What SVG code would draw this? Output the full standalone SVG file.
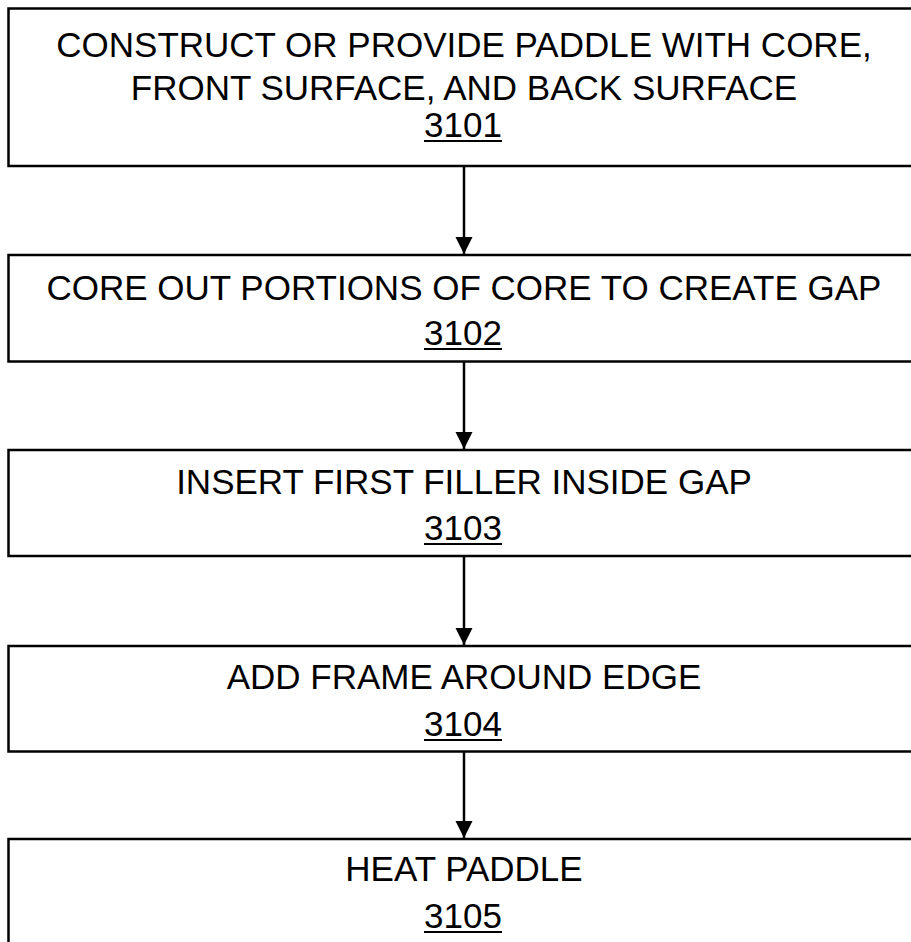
<svg xmlns="http://www.w3.org/2000/svg" width="911" height="942" viewBox="0 0 911 942">
<style>
.box{fill:#fff;stroke:#000;stroke-width:2.5}
.t{font-family:"Liberation Sans",Arial,sans-serif;font-size:35px;fill:#000;text-anchor:middle}
.u{stroke:#000;stroke-width:2}
.c{stroke:#000;stroke-width:2.5;fill:none}
</style>
<defs>
<marker id="ah" markerUnits="userSpaceOnUse" markerWidth="18" markerHeight="18" refX="17" refY="8.5" orient="auto">
<path d="M0,0 L17,8.5 L0,17 Z" fill="#000"/>
</marker>
</defs>
<rect width="911" height="942" fill="#fff"/>
<g id="n3101">
<rect class="box" x="8.5" y="8.5" width="920" height="157.5"/>
<text class="t" x="464" y="57">CONSTRUCT OR PROVIDE PADDLE WITH CORE,</text>
<text class="t" x="464" y="100">FRONT SURFACE, AND BACK SURFACE</text>
<text class="t" x="463" y="137">3101</text>
<line class="u" x1="424" y1="141" x2="502" y2="141"/>
</g>
<g id="n3102">
<rect class="box" x="8.5" y="255" width="920" height="106.5"/>
<text class="t" x="464" y="300">CORE OUT PORTIONS OF CORE TO CREATE GAP</text>
<text class="t" x="463" y="345">3102</text>
<line class="u" x1="424" y1="349" x2="502" y2="349"/>
</g>
<g id="n3103">
<rect class="box" x="8.5" y="450" width="920" height="106"/>
<text class="t" x="464" y="494">INSERT FIRST FILLER INSIDE GAP</text>
<text class="t" x="463" y="540">3103</text>
<line class="u" x1="424" y1="544" x2="502" y2="544"/>
</g>
<g id="n3104">
<rect class="box" x="8.5" y="646" width="920" height="105.5"/>
<text class="t" x="464" y="689">ADD FRAME AROUND EDGE</text>
<text class="t" x="463" y="736">3104</text>
<line class="u" x1="424" y1="740" x2="502" y2="740"/>
</g>
<g id="n3105">
<rect class="box" x="8.5" y="839" width="920" height="120"/>
<text class="t" x="464" y="881">HEAT PADDLE</text>
<text class="t" x="463" y="928">3105</text>
<line class="u" x1="424" y1="932" x2="502" y2="932"/>
</g>
<g id="connectors">
<line class="c" x1="464" y1="166" x2="464" y2="254" marker-end="url(#ah)"/>
<line class="c" x1="464" y1="361.5" x2="464" y2="449" marker-end="url(#ah)"/>
<line class="c" x1="464" y1="556" x2="464" y2="645" marker-end="url(#ah)"/>
<line class="c" x1="464" y1="751.5" x2="464" y2="838" marker-end="url(#ah)"/>
</g>
</svg>
